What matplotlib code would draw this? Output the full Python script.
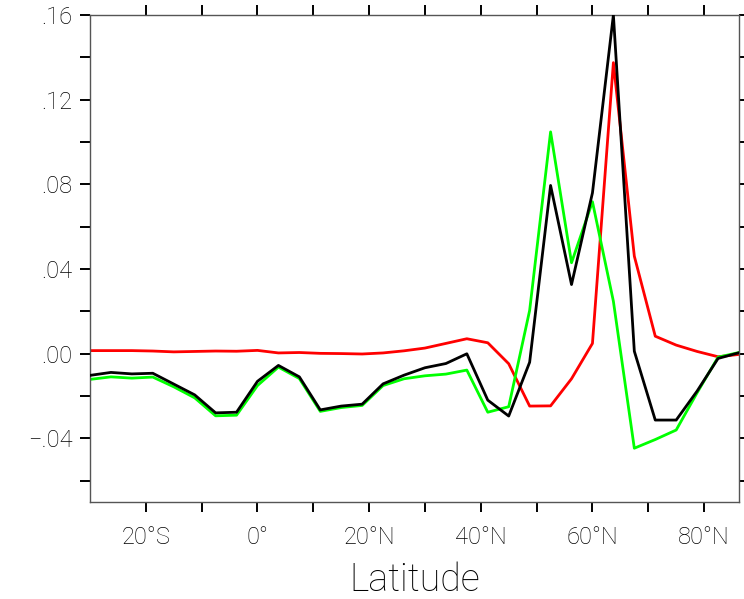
import numpy as np
import matplotlib.pyplot as plt
from matplotlib.ticker import FixedLocator, FuncFormatter

# latitude grid, 3.75 deg spacing
lat = np.arange(-30, 86.26, 3.75)

black = [-0.0102, -0.0088, -0.0095, -0.0092, -0.0143, -0.0194, -0.0279, -0.0276,
         -0.0130, -0.0055, -0.0109, -0.0265, -0.0247, -0.0238, -0.0142, -0.0101,
         -0.0066, -0.0046, 0.0000, -0.0219, -0.0294, -0.0040, 0.0795, 0.0327,
         0.0760, 0.1600, 0.0012, -0.0313, -0.0313, -0.0176, -0.0022, 0.0005]
red = [0.0015, 0.0015, 0.0015, 0.0013, 0.0009, 0.0011, 0.0013, 0.0012,
       0.0016, 0.0004, 0.0006, 0.0002, 0.0001, -0.0001, 0.0004, 0.0014,
       0.0027, 0.0049, 0.0071, 0.0052, -0.0047, -0.0247, -0.0246, -0.0118,
       0.0049, 0.1375, 0.0461, 0.0083, 0.0041, 0.0011, -0.0014, -0.0003]
green = [-0.0121, -0.0109, -0.0115, -0.0110, -0.0156, -0.0208, -0.0293, -0.0290,
         -0.0150, -0.0063, -0.0117, -0.0272, -0.0254, -0.0244, -0.0150, -0.0118,
         -0.0104, -0.0096, -0.0077, -0.0276, -0.0250, 0.0205, 0.1048, 0.0430,
         0.0718, 0.0248, -0.0446, -0.0405, -0.0360, -0.0184, -0.0016, 0.0006]

xmajor = [-20, 0, 20, 40, 60, 80]
xminor = [-10, 10, 30, 50, 70]
ymajor = [-0.04, 0.0, 0.04, 0.08, 0.12, 0.16]
yminor = [-0.06, -0.02, 0.02, 0.06, 0.10, 0.14]

plt.rcParams['font.family'] = ['Roboto', 'DejaVu Sans']
plt.rcParams['font.weight'] = 'light'

fig = plt.figure(figsize=(7.44, 5.99), dpi=100)
ax = fig.add_axes([90/744, 1-502/599, (739-90)/744, (502-15)/599])

ax.plot(lat, black, color='black', lw=2.0, zorder=3)
ax.plot(lat, red, color='#ff0000', lw=2.0, zorder=2)
ax.plot(lat, green, color='#00ff00', lw=2.0, zorder=2.5)

ax.set_xlim(-30, 86.25)
ax.set_ylim(-0.07, 0.16)


def latfmt(v, pos):
    v = int(round(v))
    if v < 0:
        return '%d°S' % -v
    if v > 0:
        return '%d°N' % v
    return '0°'


def yfmt(v, pos):
    s = '%.2f' % abs(v)
    s = s[1:]
    if v < -1e-9:
        s = '\u2212' + s
    return s


ax.xaxis.set_major_locator(FixedLocator(xmajor))
ax.xaxis.set_minor_locator(FixedLocator(xminor))
ax.yaxis.set_major_locator(FixedLocator(ymajor))
ax.yaxis.set_minor_locator(FixedLocator(yminor))
ax.xaxis.set_major_formatter(FuncFormatter(latfmt))
ax.yaxis.set_major_formatter(FuncFormatter(yfmt))

for which in ['major', 'minor']:
    ax.tick_params(axis='both', which=which, direction='out', length=7.5, width=1.4,
                   color='black', top=True, right=True)
ax.tick_params(axis='x', which='major', labelsize=17, pad=10, labelcolor='black')
ax.tick_params(axis='y', which='major', labelsize=17, pad=5, labelcolor='black')

for sp in ax.spines.values():
    sp.set_color('#555555')
    sp.set_linewidth(1.0)

ax.set_xlabel('Latitude', fontsize=27, fontweight='light', color='black', labelpad=9)

fig.savefig('out.png', dpi=100)
